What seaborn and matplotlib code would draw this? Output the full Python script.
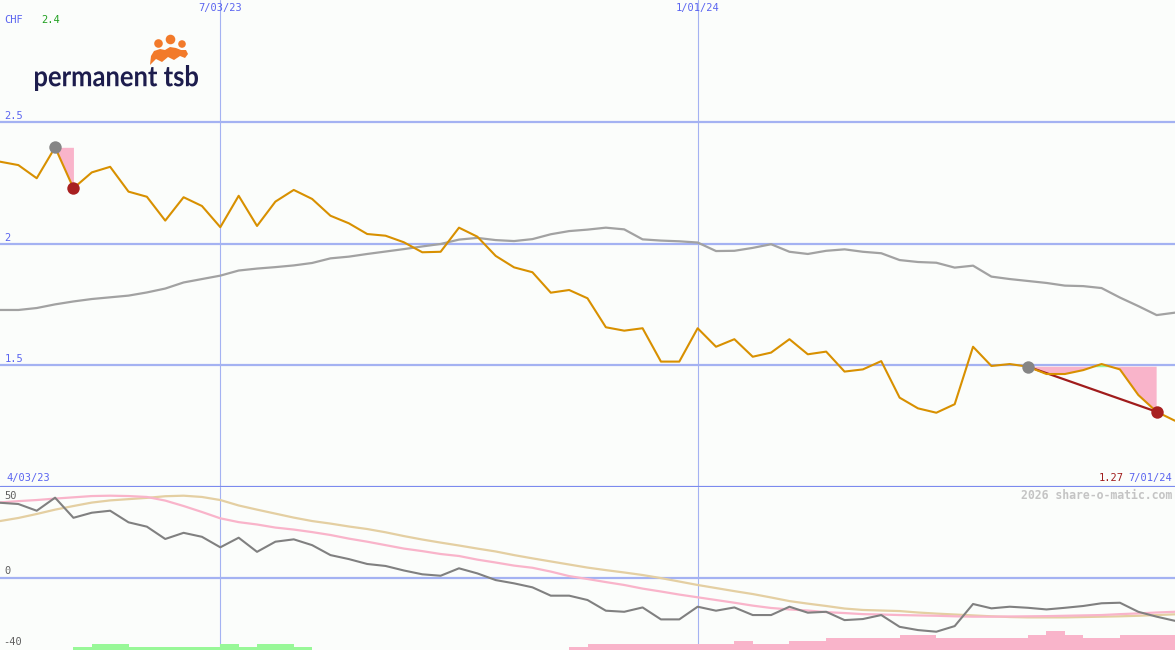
import numpy as np
import matplotlib
matplotlib.use("Agg")
import matplotlib.pyplot as plt
from matplotlib.patches import Circle, Polygon, PathPatch
from matplotlib.textpath import TextPath
from matplotlib.font_manager import FontProperties
from matplotlib.transforms import Affine2D
import seaborn as sns

# weekly closes (CHF) and a slow moving average
price = [2.336, 2.322, 2.268, 2.395, 2.227, 2.292, 2.315, 2.213, 2.192, 2.094,
         2.190, 2.154, 2.067, 2.196, 2.072, 2.172, 2.220, 2.183, 2.114, 2.083,
         2.039, 2.032, 2.005, 1.964, 1.966, 2.065, 2.028, 1.949, 1.902, 1.882,
         1.798, 1.809, 1.775, 1.656, 1.642, 1.652, 1.515, 1.515, 1.652, 1.576,
         1.607, 1.535, 1.552, 1.607, 1.545, 1.556, 1.474, 1.483, 1.517, 1.367,
         1.323, 1.305, 1.340, 1.576, 1.497, 1.505, 1.494, 1.464, 1.464, 1.480,
         1.505, 1.483, 1.378, 1.309, 1.272]
avg = [1.727, 1.727, 1.735, 1.750, 1.762, 1.772, 1.779, 1.786, 1.799, 1.815,
       1.840, 1.854, 1.868, 1.889, 1.897, 1.903, 1.910, 1.920, 1.939, 1.946,
       1.957, 1.967, 1.977, 1.988, 1.998, 2.016, 2.023, 2.014, 2.010, 2.018,
       2.038, 2.051, 2.057, 2.065, 2.058, 2.017, 2.012, 2.009, 2.004, 1.969,
       1.970, 1.982, 1.997, 1.966, 1.957, 1.970, 1.976, 1.966, 1.960, 1.932,
       1.924, 1.921, 1.901, 1.909, 1.864, 1.854, 1.846, 1.838, 1.827, 1.825,
       1.817, 1.778, 1.743, 1.706, 1.716]

# lower panel oscillator and its two smoothings
osc = [41.3, 40.6, 36.9, 44.1, 33.0, 35.8, 36.9, 30.5, 28.1, 21.3,
       24.7, 22.5, 16.7, 22.0, 14.2, 19.8, 21.1, 17.9, 12.4, 10.2,
       7.5, 6.4, 3.9, 1.8, 1.0, 5.1, 2.3, -1.4, -3.2, -5.4,
       -10.0, -10.0, -12.4, -18.3, -18.9, -16.5, -23.1, -23.1, -16.1, -18.3,
       -16.5, -20.7, -20.7, -16.1, -19.4, -18.9, -23.5, -22.9, -20.7, -27.2,
       -29.0, -29.9, -26.8, -14.6, -17.0, -16.1, -16.7, -17.6, -16.7, -15.7,
       -14.2, -13.9, -18.9, -21.6, -23.9]
osc_fast = [41.5, 42.2, 42.8, 43.6, 44.3, 45.0, 45.2, 45.0, 44.5, 42.5,
            39.5, 36.2, 32.7, 30.6, 29.3, 27.6, 26.5, 25.1, 23.5, 21.5,
            19.8, 17.9, 16.0, 14.6, 13.0, 11.9, 9.9, 8.3, 6.6, 5.4,
            3.3, 0.8, -0.8, -2.5, -4.1, -6.1, -7.7, -9.4, -10.9, -12.4,
            -13.9, -15.5, -16.8, -17.6, -18.2, -19.1, -19.6, -20.2, -20.4, -20.7,
            -20.9, -21.1, -21.4, -21.6, -21.6, -21.5, -21.4, -21.3, -21.1, -20.9,
            -20.7, -20.2, -19.8, -19.3, -18.9]
osc_slow = [31.2, 32.9, 35.1, 37.5, 39.5, 41.4, 42.6, 43.3, 44.0, 44.9,
            45.2, 44.5, 42.8, 39.8, 37.5, 35.3, 33.1, 31.2, 29.8, 28.2,
            26.8, 25.0, 22.9, 21.0, 19.3, 17.7, 16.0, 14.4, 12.4, 10.6,
            8.9, 7.2, 5.5, 4.1, 2.8, 1.4, -0.3, -2.2, -4.1, -5.8,
            -7.5, -9.1, -11.0, -13.0, -14.4, -15.7, -17.1, -17.9, -18.2, -18.5,
            -19.3, -19.9, -20.4, -20.9, -21.4, -21.8, -22.0, -22.0, -22.0, -21.8,
            -21.6, -21.4, -21.1, -20.7, -20.3]
# histogram at the panel floor (+ green, - pink)
hist = [0, 0, 0, 0, 1.8, 3.3, 3.3, 1.8, 1.8, 1.8, 1.8, 1.8, 3.3, 1.8, 3.3, 3.3, 1.8,
        0, 0, 0, 0, 0, 0, 0, 0, 0, 0, 0, 0, 0, 0,
        -1.5, -3.3, -3.3, -3.3, -3.3, -3.3, -3.3, -3.3, -3.3, -5.0, -3.3, -3.3,
        -5.0, -5.0, -6.8, -6.8, -6.8, -6.8, -8.3, -8.3, -6.8, -6.8, -6.8, -6.8,
        -6.8, -8.3, -10.5, -8.3, -6.8, -6.8, -8.3, -8.3, -8.3]

date_idx = [0, 12, 38, 64]
date_labels = ["4/03/23", "7/03/23", "1/01/24", "7/01/24"]
price_levels = [2.5, 2.0, 1.5]
osc_levels = [50, 0, -40]
# drawdowns: peak week -> trough week
peaks = [3, 56]
troughs = [4, 63]

idx = np.arange(len(price))
BG = "#fbfdfb"
BLUE_TXT = "#5a64f0"
GRID = "#a4b2f2"
MONO = "DejaVu Sans Mono"

sns.set_style("white")
plt.rcParams["font.family"] = ["DejaVu Sans Mono", "DejaVu Sans"]

fig = plt.figure(figsize=(11.75, 6.5), dpi=100, facecolor=BG)
ax1 = fig.add_axes([0, 163 / 650, 1, 487 / 650], facecolor=BG)
ax2 = fig.add_axes([0, 0, 1, 163 / 650], facecolor=BG)

for ax in (ax1, ax2):
    ax.set_xlim(0, len(price) - 1)
    for s in ax.spines.values():
        s.set_visible(False)
    ax.set_xticks([])
    ax.set_yticks([])
    for i in date_idx[1:3]:
        ax.axvline(i, color=GRID, lw=0.8, zorder=1)

ax1.set_ylim(1.0, 3.0)
ax2.set_ylim(-40, 50)

# upper panel
for lv in price_levels:
    ax1.axhline(lv, color=GRID, lw=1.6, zorder=1)
    ax1.text(0.25, lv + 0.004, f"{lv:g}", color=BLUE_TXT, fontsize=7.5,
             family=MONO, va="bottom", ha="left")
ax1.axhline(1.0, color="#7b8aee", lw=2.3, zorder=5, clip_on=False)

sns.lineplot(x=idx, y=avg, ax=ax1, color="#a2a2a2", lw=1.6, zorder=3)

p = np.array(price)
for pk, tr in zip(peaks, troughs):
    xs = idx[pk:tr + 1]
    ys = p[pk:tr + 1]
    ref = p[pk]
    ax1.fill_between(xs, ref, ys, where=ys <= ref, interpolate=True,
                     color="#f9b4ca", lw=0, zorder=2)
    ax1.fill_between(xs, ref, ys, where=ys > ref, interpolate=True,
                     color="#9af79a", lw=0, zorder=2)
    if tr - pk > 1:
        ax1.plot([pk, tr], [p[pk], p[tr]], color="#a01c1c", lw=1.6, zorder=4)

sns.lineplot(x=idx, y=price, ax=ax1, color="#d89000", lw=1.5, zorder=4)
sns.scatterplot(x=idx[peaks], y=p[peaks], ax=ax1, color="#858585", s=80,
                linewidth=0, zorder=5)
sns.scatterplot(x=idx[troughs], y=p[troughs], ax=ax1, color="#a82020", s=80,
                linewidth=0, zorder=5)

top = ax1.get_xaxis_transform()
for i, lab in zip(date_idx[1:3], date_labels[1:3]):
    ax1.text(i, 0.983, lab, transform=top, ha="center", va="center",
             color=BLUE_TXT, fontsize=7.5, family=MONO)
ax1.text(0.35, 0.019, date_labels[0], transform=top, ha="left", va="center",
         color=BLUE_TXT, fontsize=7.5, family=MONO)
ax1.text(63.85, 0.019, date_labels[-1], transform=top, ha="right", va="center",
         color=BLUE_TXT, fontsize=7.5, family=MONO)
ax1.text(61.2, 0.019, f"{price[-1]:.2f}", transform=top, ha="right", va="center",
         color="#a01c1c", fontsize=7.5, family=MONO)
ax1.text(0.25, 2.918, "CHF", color=BLUE_TXT, fontsize=7.5, family=MONO, va="center")
ax1.text(2.25, 2.918, f"{max(price):.1f}", color="#20a020", fontsize=7.5,
         family=MONO, va="center")

# lower panel
ax2.axhline(0, color=GRID, lw=1.6, zorder=1)
cols = ["#98f898" if h > 0 else "#f9b4ca" for h in hist]
ax2.bar(idx[:len(hist)], np.abs(hist), width=1.0, align="edge", bottom=-40,
        color=cols, lw=0, zorder=2)
sns.lineplot(x=idx, y=osc_slow, ax=ax2, color="#e4cfa2", lw=1.6, zorder=3)
sns.lineplot(x=idx, y=osc_fast, ax=ax2, color="#f9b4ca", lw=1.6, zorder=3)
sns.lineplot(x=idx, y=osc, ax=ax2, color="#808080", lw=1.5, zorder=4)

ax2.text(0.25, 50 - 5, str(osc_levels[0]), color="#606060", fontsize=7.5,
         family=MONO, va="center")
ax2.text(0.25, 0 + 3.5, str(osc_levels[1]), color="#606060", fontsize=7.5,
         family=MONO, va="center")
ax2.text(0.15, -40 + 4.5, str(osc_levels[2]), color="#606060", fontsize=7.5,
         family=MONO, va="center")
ax2.text(63.85, 0.945, "2026 share-o-matic.com", transform=ax2.get_xaxis_transform(),
         ha="right", va="center", color="#c4c4c4", fontsize=8.3, family=MONO,
         fontweight="bold")
for ax in (ax1, ax2):
    ax.set_xlabel("")
    ax.set_ylabel("")

# logo, drawn in pixel space (y grows downwards)
ov = fig.add_axes([0, 0, 1, 1])
ov.set_xlim(0, 1175)
ov.set_ylim(650, 0)
ov.axis("off")
ov.patch.set_alpha(0)

tp = TextPath((0, 0), "permanent tsb", size=20,
              prop=FontProperties(family="Lato", weight="bold"))
ext = tp.get_extents()
sx = (198 - 35) / ext.width
sy = (91 - 65) / ext.height
logo_tf = Affine2D().translate(-ext.x0, -ext.y1).scale(sx, -sy).translate(35, 65)
ov.add_patch(PathPatch(tp, transform=logo_tf + ov.transData, color="#1d1d4d", lw=0))

orange = "#f27a2a"
for cx, cy, r in [(158.5, 43.5, 4.3), (170.5, 39.5, 4.8), (182, 44, 3.8)]:
    ov.add_patch(Circle((cx, cy), r, color=orange, lw=0))
ov.add_patch(Polygon([(150, 65), (151, 56), (154, 51), (160, 49), (165, 50),
                      (170, 47), (176, 48), (181, 50), (186, 50), (188, 54),
                      (185, 58), (180, 56), (174, 60), (168, 57), (162, 62),
                      (156, 59)],
                     closed=True, color=orange, lw=0))

fig.savefig("out.png", dpi=100, facecolor=BG)
